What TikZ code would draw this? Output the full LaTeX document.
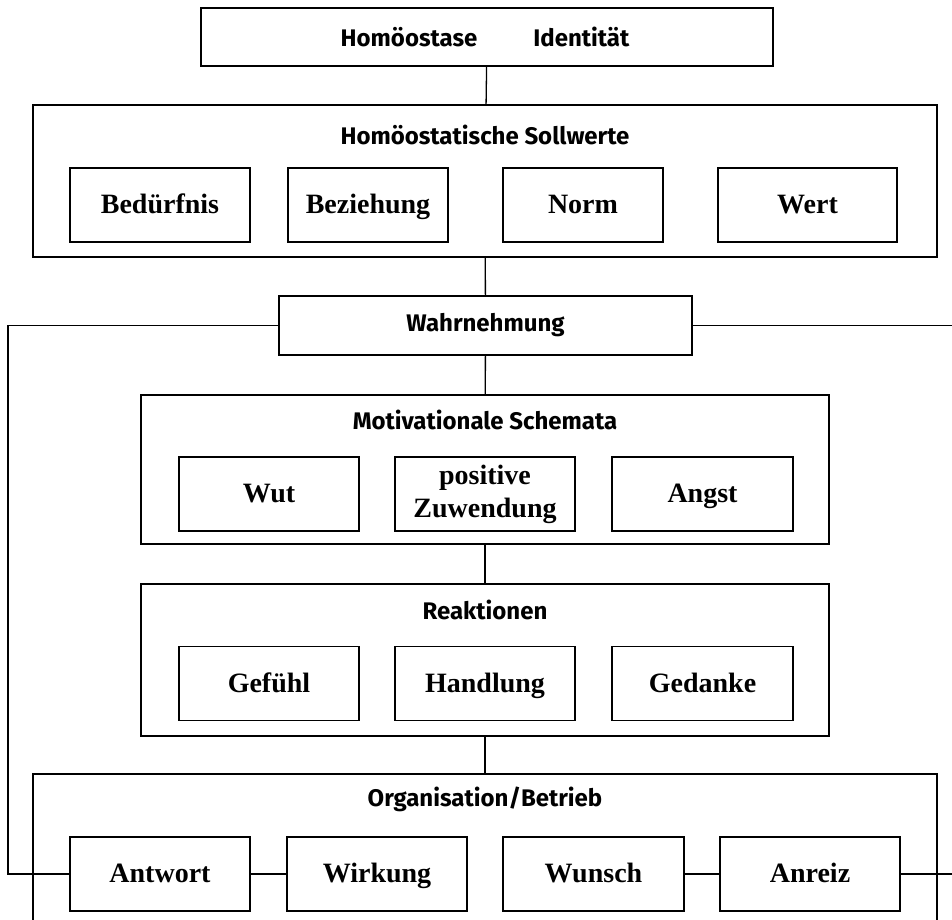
\documentclass[tikz,border=0pt]{standalone}
\usepackage{fontspec}
\setmainfont{Liberation Serif}
\newfontfamily\headfont{Fira Sans}
\usetikzlibrary{positioning}

\tikzset{
  frame/.style={draw, line width=1.3pt, inner sep=0pt},
  item/.style={draw, line width=1.3pt, minimum height=74pt, align=center,
    font=\fontsize{28}{33}\selectfont\bfseries},
  entry/.style={item, text height=19pt, text depth=2pt},
  head/.style={font=\headfont\fontsize{24}{26}\selectfont\bfseries},
  link/.style={line width=1.3pt},
}

\begin{document}
\begin{tikzpicture}[x=1pt,y=-1pt]
        \clip (0,0) rectangle (952,919);

        \node[frame, minimum width=572pt, minimum height=58pt] (homoe) at (487, 37) {};
        \node[head] (homoetxt) at (485, 37) {Homöostase\hspace{56pt}Identität};

        \node[frame, minimum width=904pt, minimum height=152pt] (soll) at (485, 181) {};
        \node[head] (solltxt) at (485, 135) {Homöostatische Sollwerte};
        \node[entry, minimum width=180pt] (beduerfnis) at (160, 205)   {Bedürfnis};
        \node[entry, minimum width=160pt] (beziehung) at (368, 205)    {Beziehung};
        \node[entry, minimum width=160pt] (norm) at (583, 205)         {Norm};
        \node[entry, minimum width=179pt] (wert) at (807.5, 205)       {Wert};

        \node[frame, minimum width=413pt, minimum height=59pt] (wahr) at (485.5, 325.5) {};
        \node[head] (wahrtxt) at (485.5, 325.5) {Wahrnehmung};

        \node[frame, minimum width=688pt, minimum height=149pt] (motiv) at (485, 469.5) {};
        \node[head] (motivtxt) at (485, 420) {Motivationale Schemata};
        \node[entry, minimum width=180pt] (wut) at (269, 494)          {Wut};
        \node[item, minimum width=180pt] (zuwendung) at (485, 494)     {positive\\Zuwendung};
        \node[entry, minimum width=181pt] (angst) at (702.5, 494)      {Angst};

        \node[frame, minimum width=688pt, minimum height=152pt] (reakt) at (485, 660) {};
        \node[head] (reakttxt) at (485, 610) {Reaktionen};
        \node[entry, minimum width=180pt] (gefuehl) at (269, 683.5)    {Gefühl};
        \node[entry, minimum width=180pt] (handlung) at (485, 683.5)   {Handlung};
        \node[entry, minimum width=181pt] (gedanke) at (702.5, 683.5)  {Gedanke};

        \node[frame, minimum width=904pt, minimum height=166pt] (org) at (485, 857) {};
        \node[head] (orgtxt) at (485, 799) {Organisation/Betrieb};
        \node[entry, minimum width=180pt] (antwort) at (160, 874)      {Antwort};
        \node[entry, minimum width=180pt] (wirkung) at (377, 874)      {Wirkung};
        \node[entry, minimum width=181pt] (wunsch) at (593.5, 874)     {Wunsch};
        \node[entry, minimum width=180pt] (anreiz) at (810, 874)       {Anreiz};

        \coordinate (links) at (8, 600);
        \coordinate (rechts) at (952, 600);

        % vertical chain
        \draw[link] (homoe) -- (soll);
        \draw[link] (soll) -- (wahr);
        \draw[link] (wahr) -- (motiv);
        \draw[link] (motiv) -- (reakt);
        \draw[link] (reakt) -- (org);

        % feedback loop
        \draw[link] (wahr.west) -| (links) |- (antwort.west);
        \draw[link] (wahr.east) -- (wahr.east -| rechts);
        \draw[link] (antwort) -- (wirkung);
        \draw[link] (wunsch) -- (anreiz);
        \draw[link] (anreiz.east) -- (anreiz.east -| rechts);
\end{tikzpicture}
\end{document}
